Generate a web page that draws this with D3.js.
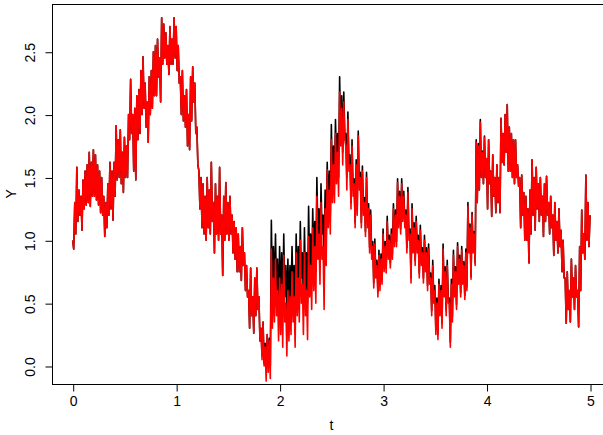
<!DOCTYPE html>
<html><head><meta charset="utf-8">
<script src="https://cdn.jsdelivr.net/npm/d3@7"></script>
<style>body{margin:0;background:#fff}svg{display:block}text{font-family:"Liberation Sans",Arial,sans-serif}</style>
</head><body>
<svg id="c" width="603" height="435"></svg>
<script>
const tStep = 0.01;
const xTicks = [0, 1, 2, 3, 4, 5];
const yTicks = [0.0, 0.5, 1.0, 1.5, 2.0, 2.5];
const yTickLabels = ["0.0", "0.5", "1.0", "1.5", "2.0", "2.5"];
const redY = [
1.00,0.93, 1.30,1.05, 1.58,1.15, 1.40,1.20, 1.35,1.08,
1.48,1.25, 1.55,1.28, 1.60,1.30, 1.70,1.27, 1.62,1.35,
1.72,1.35, 1.68,1.32, 1.60,1.28, 1.55,1.22, 1.50,1.20,
1.35,1.03, 1.30,1.10, 1.45,1.20, 1.62,1.25, 1.55,1.16,
1.62,1.35, 1.91,1.48, 1.80,1.50, 1.88,1.45, 1.70,1.38,
1.82,1.50, 1.75,1.50, 2.00,1.80, 2.28,1.85, 2.00,1.55,
2.05,1.48, 2.15,1.80, 2.20,1.85, 2.35,2.00, 2.46,2.05,
2.25,1.90, 2.10,1.78, 2.30,2.00, 2.35,2.05, 2.50,2.15,
2.55,2.15, 2.60,2.30, 2.45,2.10, 2.77,2.40, 2.72,2.45,
2.65,2.40, 2.55,2.32, 2.70,2.40, 2.60,2.40, 2.77,2.45,
2.70,2.35, 2.55,2.25, 2.30,2.00, 2.35,1.95, 2.15,1.90,
2.20,1.75, 2.00,1.72, 2.30,1.95, 2.38,2.10, 2.25,1.85,
1.90,1.60, 1.55,1.25, 1.50,1.10, 1.45,1.05, 1.35,1.00,
1.50,1.10, 1.40,1.05, 1.62,1.15, 1.30,0.90, 1.45,1.05,
1.35,1.00, 1.58,1.05, 1.20,0.72, 1.35,1.00, 1.46,1.05,
1.30,1.00, 1.35,1.05, 1.20,0.90, 1.15,0.85, 1.10,0.75,
1.05,0.75, 0.95,0.68, 1.10,0.80, 0.90,0.60, 0.80,0.55,
0.60,0.30, 0.78,0.40, 0.55,0.26, 0.70,0.40, 0.78,0.45,
0.55,0.20, 0.30,0.05, 0.35,0.00, 0.15,-0.12, 0.25,-0.05,
0.20,-0.10, 0.93,0.30, 0.70,0.35, 0.85,0.40, 0.60,0.20,
0.70,0.25, 0.65,0.15, 0.88,0.35, 0.50,0.08, 0.60,0.20,
0.55,0.25, 0.75,0.35, 0.55,0.15, 0.90,0.40, 0.70,0.35,
1.00,0.50, 0.65,0.25, 0.90,0.40, 0.60,0.21, 1.03,0.55,
0.80,0.45, 1.10,0.60, 0.95,0.50, 1.35,0.85, 1.05,0.65,
1.30,0.85, 0.95,0.45, 1.25,0.80, 1.56,1.10, 1.40,1.05,
1.80,1.30, 1.60,1.30, 1.85,1.45, 1.70,1.35, 2.18,1.75,
2.05,1.60, 2.10,1.80, 1.75,1.40, 1.96,1.55, 1.60,1.25,
1.75,1.35, 1.45,1.10, 1.60,1.20, 1.83,1.40, 1.50,1.10,
1.55,1.20, 1.30,1.03, 1.50,1.10, 1.25,0.90, 1.20,0.85,
0.95,0.62, 0.97,0.70, 0.80,0.55, 0.88,0.60, 0.85,0.65,
1.05,0.75, 0.95,0.74, 1.15,0.85, 1.00,0.78, 1.05,0.85,
1.25,0.95, 1.20,0.95, 1.46,1.10, 1.35,1.05, 1.45,1.15,
1.35,1.10, 1.20,0.90, 1.38,1.00, 1.05,0.66, 1.25,0.90,
1.10,0.80, 1.15,0.90, 1.00,0.70, 1.08,0.80, 0.90,0.66,
1.00,0.75, 0.90,0.60, 0.93,0.65, 0.70,0.40, 0.80,0.50,
0.60,0.25, 0.50,0.21, 0.65,0.40, 0.60,0.30, 0.93,0.55,
0.75,0.40, 0.80,0.50, 0.50,0.15, 0.65,0.35, 0.88,0.55,
0.75,0.45, 0.95,0.65, 0.85,0.55, 0.92,0.65, 0.80,0.53,
0.90,0.60, 1.27,0.90, 1.10,0.69, 1.20,0.90, 1.05,0.80,
1.78,1.30, 1.75,1.40, 1.94,1.50, 1.70,1.45, 1.82,1.50,
1.65,1.25, 1.80,1.45, 1.55,1.19, 1.68,1.35, 1.50,1.22,
1.60,1.30, 1.50,1.22, 1.97,1.62, 1.85,1.60, 2.00,1.70,
2.08,1.55, 1.90,1.55, 1.85,1.50, 1.80,1.45, 1.80,1.50,
1.60,1.43, 1.50,1.10, 1.52,1.20, 1.38,1.00, 1.35,1.00,
1.25,0.82, 1.40,1.05, 1.64,1.20, 1.50,1.08, 1.58,1.25,
1.45,1.15, 1.50,1.20, 1.35,1.03, 1.45,1.15, 1.51,1.20,
1.30,1.05, 1.35,1.10, 1.20,0.88, 1.30,1.00, 1.15,0.90,
1.25,0.95, 1.08,0.75, 1.00,0.70, 0.70,0.34, 0.75,0.45,
0.60,0.35, 0.85,0.55, 0.70,0.45, 0.80,0.55, 0.60,0.31,
0.95,0.60, 1.24,0.90, 1.05,0.85, 1.52,1.00, 1.30,0.95,
1.20];
const blackY = [
1.00,0.93, 1.30,1.05, 1.58,1.15, 1.40,1.20, 1.35,1.08,
1.48,1.25, 1.55,1.28, 1.60,1.30, 1.70,1.27, 1.62,1.35,
1.72,1.35, 1.68,1.32, 1.60,1.28, 1.55,1.22, 1.50,1.20,
1.35,1.03, 1.30,1.10, 1.45,1.20, 1.62,1.25, 1.55,1.16,
1.62,1.35, 1.91,1.48, 1.80,1.50, 1.88,1.45, 1.70,1.38,
1.82,1.50, 1.75,1.50, 2.00,1.80, 2.28,1.85, 2.00,1.55,
2.05,1.48, 2.15,1.80, 2.20,1.85, 2.35,2.00, 2.46,2.05,
2.25,1.90, 2.10,1.78, 2.30,2.00, 2.35,2.05, 2.50,2.15,
2.55,2.15, 2.60,2.30, 2.45,2.10, 2.77,2.40, 2.72,2.45,
2.65,2.40, 2.55,2.32, 2.70,2.40, 2.60,2.40, 2.77,2.45,
2.70,2.35, 2.55,2.25, 2.30,2.00, 2.35,1.95, 2.15,1.90,
2.20,1.75, 2.00,1.72, 2.30,1.95, 2.38,2.10, 2.25,1.85,
1.90,1.60, 1.55,1.25, 1.50,1.10, 1.45,1.05, 1.35,1.00,
1.50,1.10, 1.40,1.05, 1.62,1.15, 1.30,0.90, 1.45,1.05,
1.35,1.00, 1.58,1.05, 1.20,0.72, 1.35,1.00, 1.46,1.05,
1.30,1.00, 1.35,1.05, 1.20,0.90, 1.15,0.85, 1.10,0.75,
1.05,0.75, 0.95,0.68, 1.10,0.80, 0.90,0.60, 0.80,0.55,
0.60,0.30, 0.78,0.40, 0.55,0.26, 0.70,0.40, 0.78,0.45,
0.55,0.20, 0.30,0.08, 0.35,0.02, 0.18,-0.01, 0.25,0.00,
0.22,0.00, 1.16,0.60, 0.95,0.55, 1.05,0.60, 0.85,0.45,
0.95,0.50, 0.90,0.45, 1.05,0.55, 0.80,0.45, 0.85,0.45,
0.80,0.50, 0.95,0.55, 0.80,0.45, 1.05,0.60, 0.95,0.55,
1.15,0.70, 0.90,0.50, 1.10,0.60, 0.90,0.50, 1.27,0.80,
1.05,0.70, 1.25,0.85, 1.15,0.75, 1.50,1.05, 1.25,0.85,
1.45,1.05, 1.20,0.85, 1.40,1.00, 1.62,1.25, 1.55,1.20,
1.92,1.45, 1.75,1.45, 1.96,1.60, 1.85,1.50, 2.30,1.85,
2.15,1.70, 2.18,1.85, 1.85,1.50, 2.02,1.60, 1.68,1.30,
1.80,1.40, 1.49,1.14, 1.64,1.24, 1.87,1.44, 1.54,1.14,
1.59,1.24, 1.34,1.07, 1.54,1.14, 1.29,0.94, 1.24,0.89,
0.99,0.66, 1.01,0.74, 0.84,0.59, 0.92,0.64, 0.89,0.69,
1.09,0.79, 0.99,0.78, 1.19,0.89, 1.04,0.82, 1.09,0.89,
1.29,0.99, 1.24,0.99, 1.49,1.14, 1.39,1.09, 1.49,1.19,
1.39,1.14, 1.24,0.94, 1.42,1.04, 1.09,0.70, 1.29,0.94,
1.14,0.84, 1.19,0.94, 1.04,0.74, 1.12,0.84, 0.94,0.70,
1.04,0.79, 0.94,0.64, 0.97,0.69, 0.74,0.44, 0.84,0.54,
0.64,0.29, 0.54,0.25, 0.69,0.44, 0.64,0.34, 0.97,0.59,
0.79,0.44, 0.84,0.54, 0.54,0.19, 0.69,0.39, 0.92,0.59,
0.79,0.49, 0.98,0.68, 0.88,0.58, 0.95,0.68, 0.83,0.56,
0.93,0.63, 1.30,0.92, 1.13,0.71, 1.22,0.92, 1.07,0.82,
1.80,1.30, 1.77,1.40, 1.96,1.50, 1.71,1.45, 1.83,1.50,
1.65,1.25, 1.80,1.45, 1.55,1.19, 1.68,1.35, 1.50,1.22,
1.60,1.30, 1.50,1.22, 1.97,1.62, 1.85,1.60, 2.00,1.70,
2.08,1.55, 1.90,1.55, 1.85,1.50, 1.80,1.45, 1.80,1.50,
1.60,1.43, 1.50,1.10, 1.52,1.20, 1.38,1.00, 1.35,1.00,
1.25,0.82, 1.40,1.05, 1.64,1.20, 1.50,1.08, 1.58,1.25,
1.45,1.15, 1.50,1.20, 1.35,1.03, 1.45,1.15, 1.51,1.20,
1.30,1.05, 1.35,1.10, 1.20,0.88, 1.30,1.00, 1.15,0.90,
1.25,0.95, 1.08,0.75, 1.00,0.70, 0.70,0.34, 0.75,0.45,
0.60,0.35, 0.85,0.55, 0.70,0.45, 0.80,0.55, 0.60,0.31,
0.95,0.60, 1.24,0.90, 1.05,0.85, 1.52,1.00, 1.30,0.95,
1.20];

const svg = d3.select("#c");
const L = 52, R = 610.7, T = 4, B = 384;
const x = d3.scaleLinear().domain([-0.2, 5.2]).range([L, R]);
const y = d3.scaleLinear().domain([-0.1432, 2.8798]).range([B, T]);

svg.append("clipPath").attr("id", "clip").append("rect")
  .attr("x", L).attr("y", T).attr("width", R - L).attr("height", B - T);

const line = d3.line().x((d, i) => x(i * tStep)).y(d => y(d));
const g = svg.append("g").attr("clip-path", "url(#clip)");
g.append("path").datum(blackY).attr("d", line)
  .attr("fill", "none").attr("stroke", "#000").attr("stroke-width", 1.6).attr("stroke-linejoin", "round");
g.append("path").datum(redY).attr("d", line)
  .attr("fill", "none").attr("stroke", "#ff0000").attr("stroke-width", 1.6).attr("stroke-linejoin", "round");

svg.append("rect").attr("x", L + 0.5).attr("y", T + 0.5).attr("width", R - L).attr("height", B - T)
  .attr("fill", "none").attr("stroke", "#000").attr("stroke-width", 1);

const xAxis = d3.axisBottom(x).tickValues(xTicks).tickSize(7).tickPadding(5).tickFormat(d3.format("d"));
const gx = svg.append("g").attr("transform", `translate(0.5,${B + 0.5})`).call(xAxis);
gx.select(".domain").attr("d", `M${x(0)},0H${x(5)}`);
gx.selectAll("text").attr("font-size", 14).attr("font-family", "Liberation Sans, Arial, sans-serif").attr("fill", "#000");

const yAxis = d3.axisLeft(y).tickValues(yTicks).tickSize(7).tickFormat((d, i) => yTickLabels[i]);
const gy = svg.append("g").attr("transform", `translate(${L + 0.5},0.5)`).call(yAxis);
gy.select(".domain").attr("d", `M0,${y(0)}V${y(2.5)}`);
gy.selectAll(".tick text")
  .attr("font-size", 14).attr("font-family", "Liberation Sans, Arial, sans-serif").attr("fill", "#000")
  .attr("x", 0).attr("dy", null).attr("text-anchor", "middle")
  .attr("transform", "translate(-18,0) rotate(-90)");

svg.append("text").attr("x", x(2.5)).attr("y", 430).attr("text-anchor", "middle")
  .attr("font-size", 14).text("t");
svg.append("text").attr("transform", `translate(16,${y(1.37)}) rotate(-90)`).attr("text-anchor", "middle")
  .attr("font-size", 14).text("Y");
</script>
</body></html>
